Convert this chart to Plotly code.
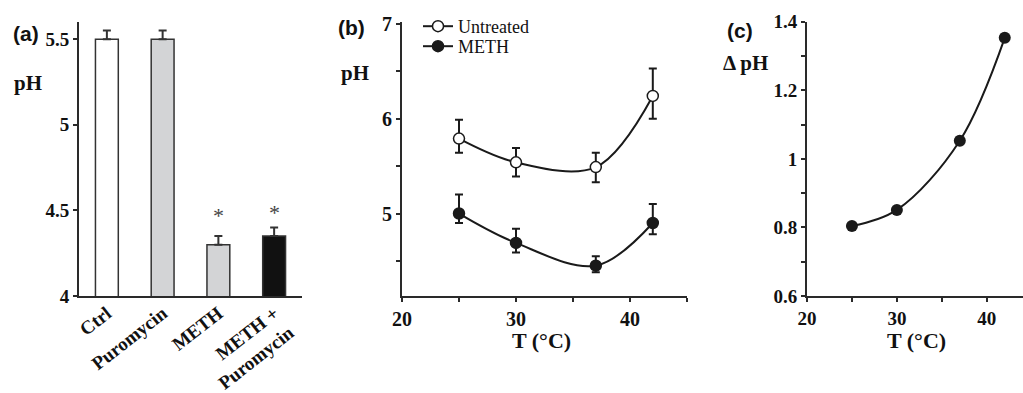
import plotly.graph_objects as go

# ---------------- data ----------------
# Panel (a)
bar_categories = ["Ctrl", "Puromycin", "METH", "METH +<br>Puromycin"]
bar_values = [5.50, 5.50, 4.30, 4.35]
bar_err_up = [0.05, 0.05, 0.05, 0.05]
bar_colors = ["#ffffff", "#d3d4d6", "#d3d4d6", "#111111"]
sig_categories = ["METH", "METH +<br>Puromycin"]
sig_heights = [4.47, 4.49]

# Panel (b)
temps = [25, 30, 37, 42]
untreated_ph = [5.79, 5.54, 5.49, 6.24]
untreated_err_up = [0.20, 0.15, 0.15, 0.29]
untreated_err_dn = [0.15, 0.15, 0.16, 0.24]
meth_ph = [5.00, 4.69, 4.45, 4.90]
meth_err_up = [0.20, 0.15, 0.10, 0.20]
meth_err_dn = [0.10, 0.10, 0.07, 0.12]

# Panel (c)
delta_ph = [0.804, 0.851, 1.053, 1.353]

# tick labels
a_yticks = [4, 4.5, 5, 5.5]
a_yticklabels = ["4", "4.5", "5", "5.5"]
b_yticks = [4.5, 5, 5.5, 6, 6.5, 7]
b_yticklabels = ["", "5", "", "6", "", "7"]
bc_xticks = [20, 25, 30, 35, 40, 45]
bc_xticklabels = ["20", "", "30", "", "40", ""]
c_yticks = [0.6, 0.7, 0.8, 0.9, 1.0, 1.1, 1.2, 1.3, 1.4]
c_yticklabels = ["0.6", "", "0.8", "", "1", "", "1.2", "", "1.4"]

# ---------------- figure ----------------
W, H = 1023, 393
def px(x):
    return x / W
def py(y):
    return 1 - y / H

AX = "#2a2a2a"
SERIF = "Liberation Serif"
SANS = "Liberation Sans"

fig = go.Figure()

fig.add_trace(go.Bar(
    x=bar_categories, y=bar_values, width=0.41,
    marker=dict(color=bar_colors, line=dict(color="#333333", width=1.5)),
    error_y=dict(type="data", symmetric=False, array=bar_err_up,
                 arrayminus=[0] * len(bar_err_up), color="#333333",
                 thickness=2, width=4),
    xaxis="x", yaxis="y", showlegend=False,
))

fig.add_trace(go.Scatter(
    x=temps, y=untreated_ph, name="Untreated", mode="lines+markers",
    line=dict(color="#1a1a1a", width=2, shape="spline", smoothing=1),
    marker=dict(symbol="circle", size=11, color="white",
                line=dict(color="#1a1a1a", width=1.5)),
    error_y=dict(type="data", symmetric=False, array=untreated_err_up,
                 arrayminus=untreated_err_dn, color="#1a1a1a",
                 thickness=2, width=4),
    xaxis="x2", yaxis="y2", legend="legend",
))
fig.add_trace(go.Scatter(
    x=temps, y=meth_ph, name="METH", mode="lines+markers",
    line=dict(color="#1a1a1a", width=2, shape="spline", smoothing=1),
    marker=dict(symbol="circle", size=11, color="#1a1a1a",
                line=dict(color="#1a1a1a", width=1.5)),
    error_y=dict(type="data", symmetric=False, array=meth_err_up,
                 arrayminus=meth_err_dn, color="#1a1a1a",
                 thickness=2, width=4),
    xaxis="x2", yaxis="y2", legend="legend2",
))

fig.add_trace(go.Scatter(
    x=temps, y=delta_ph, mode="lines+markers",
    line=dict(color="#1a1a1a", width=2, shape="spline", smoothing=1),
    marker=dict(symbol="circle", size=12, color="#1a1a1a"),
    xaxis="x3", yaxis="y3", showlegend=False,
))

common = dict(showgrid=False, zeroline=False, showline=True, linecolor=AX,
              linewidth=2, tickcolor=AX, tickwidth=1.5, ticklen=4,
              fixedrange=True, automargin=False)
tfa = dict(family=SERIF, size=19, color="#111111", weight="bold")
tfb = dict(family=SERIF, size=20, color="#111111", weight="bold")
legfont = dict(family=SERIF, size=18, color="#111111")

fig.update_layout(
    template="none",
    width=W, height=H, autosize=False,
    margin=dict(l=0, r=0, t=0, b=0, pad=0),
    paper_bgcolor="white", plot_bgcolor="white",
    xaxis=dict(domain=[px(79), px(302)], anchor="y", type="category",
               categoryorder="array", categoryarray=bar_categories,
               range=[-0.5, 3.5], ticks="", tickangle=-38,
               ticklabelstandoff=-3, tickfont=tfa, **common),
    yaxis=dict(domain=[py(296), py(22)], anchor="x", range=[4, 5.6],
               tickvals=a_yticks, ticktext=a_yticklabels, ticks="outside",
               tickfont=tfa, **common),
    xaxis2=dict(domain=[px(402), px(687)], anchor="y2", range=[20, 45],
                tickvals=bc_xticks, ticktext=bc_xticklabels, ticks="outside",
                tickfont=tfb, **common),
    yaxis2=dict(domain=[py(296), py(22)], anchor="x2", range=[4.13, 7.02],
                tickvals=b_yticks, ticktext=b_yticklabels, ticks="outside",
                tickfont=tfb, **common),
    xaxis3=dict(domain=[px(807), 1.0], anchor="y3", range=[20, 44.03],
                tickvals=bc_xticks, ticktext=bc_xticklabels, ticks="outside",
                tickfont=tfa, **common),
    yaxis3=dict(domain=[py(296), py(21.7)], anchor="x3", range=[0.6, 1.4],
                tickvals=c_yticks, ticktext=c_yticklabels, ticks="outside",
                tickfont=tfa, **common),
    legend=dict(x=px(418), y=py(8), xanchor="left", yanchor="top",
                bgcolor="rgba(0,0,0,0)", borderwidth=0, itemwidth=30,
                font=legfont),
    legend2=dict(x=px(418), y=py(28), xanchor="left", yanchor="top",
                 bgcolor="rgba(0,0,0,0)", borderwidth=0, itemwidth=30,
                 font=legfont),
    showlegend=True,
)

annots = []
def lab(text, x, y, family, size, anchor="left", weight="bold"):
    annots.append(dict(text=text, x=px(x), y=py(y), xref="paper", yref="paper",
                       xanchor=anchor, yanchor="middle", showarrow=False,
                       font=dict(family=family, size=size, color="#111111",
                                 weight=weight)))

lab("(a)", 11, 33, SANS, 21)
lab("pH", 12, 83, SERIF, 21)
lab("(b)", 336, 27, SANS, 21)
lab("pH", 339, 73, SERIF, 21)
lab("(c)", 725, 31, SANS, 21)
lab("Δ pH", 721, 63, SERIF, 21)
lab("T (°C)", 541, 340, SERIF, 22, anchor="center")
lab("T (°C)", 916, 340, SERIF, 22, anchor="center")

for cat, h in zip(sig_categories, sig_heights):
    annots.append(dict(text="*", x=cat, y=h, xref="x", yref="y",
                       showarrow=False, yanchor="middle",
                       font=dict(family=SERIF, size=22, color="#444444")))

fig.update_layout(annotations=annots)

fig.write_html("out.html")
